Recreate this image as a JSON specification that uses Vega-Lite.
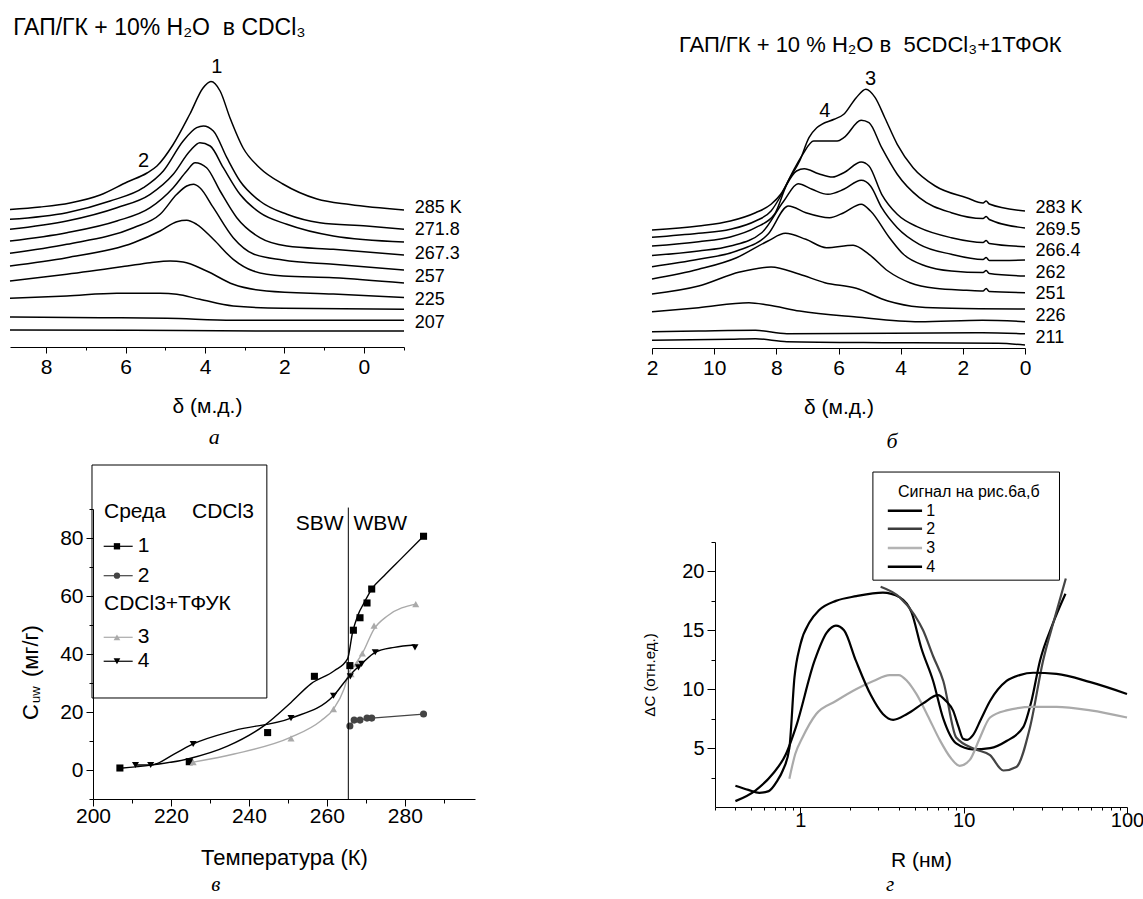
{
"$schema": "https://vega.github.io/schema/vega-lite/v6.json",
"background": "white",
"padding": {"left": 7, "top": 17, "right": 0, "bottom": 0},
"config": {
  "font": "Liberation Sans",
  "view": {"stroke": null},
  "axis": {"domainColor": "black", "tickColor": "black", "labelColor": "black", "titleColor": "black", "labelFont": "Liberation Sans", "titleFont": "Liberation Sans", "titleFontWeight": "normal", "grid": false, "labelFlush": false, "labelOverlap": false, "domainWidth": 1, "tickWidth": 1},
  "text": {"font": "Liberation Sans", "color": "black"}
},
"datasets": {
"a": [
{"c":1,"x":8.91,"y":13.75},{"c":1,"x":8.15,"y":14.0},{"c":1,"x":7.40,"y":14.4},{"c":1,"x":6.64,"y":15.2},{"c":1,"x":5.96,"y":16.5},{"c":1,"x":5.46,"y":17.4},{"c":1,"x":5.21,"y":18.1},{"c":1,"x":4.81,"y":20.2},{"c":1,"x":4.38,"y":23.3},{"c":1,"x":4.05,"y":25.9},{"c":1,"x":3.85,"y":26.55},{"c":1,"x":3.62,"y":25.6},{"c":1,"x":3.37,"y":22.9},{"c":1,"x":3.04,"y":19.9},{"c":1,"x":2.62,"y":17.9},{"c":1,"x":2.04,"y":16.3},{"c":1,"x":1.18,"y":14.8},{"c":1,"x":0.35,"y":14.25},{"c":1,"x":-1.01,"y":13.7},
{"c":2,"x":8.91,"y":12.77},{"c":2,"x":7.48,"y":13.43},{"c":2,"x":6.39,"y":14.6},{"c":2,"x":5.55,"y":15.93},{"c":2,"x":5.05,"y":17.6},{"c":2,"x":4.55,"y":20.6},{"c":2,"x":4.21,"y":21.93},{"c":2,"x":4.04,"y":22.1},{"c":2,"x":3.79,"y":21.6},{"c":2,"x":3.45,"y":18.93},{"c":2,"x":3.12,"y":16.6},{"c":2,"x":2.62,"y":14.6},{"c":2,"x":1.94,"y":13.27},{"c":2,"x":1.11,"y":12.43},{"c":2,"x":-0.07,"y":12.1},{"c":2,"x":-1.01,"y":11.77},
{"c":3,"x":8.91,"y":11.77},{"c":3,"x":7.48,"y":12.6},{"c":3,"x":6.22,"y":13.93},{"c":3,"x":5.38,"y":15.27},{"c":3,"x":4.80,"y":17.27},{"c":3,"x":4.38,"y":19.6},{"c":3,"x":4.13,"y":20.43},{"c":3,"x":3.87,"y":20.1},{"c":3,"x":3.54,"y":17.93},{"c":3,"x":3.12,"y":15.27},{"c":3,"x":2.62,"y":13.43},{"c":3,"x":1.94,"y":12.27},{"c":3,"x":0.77,"y":11.1},{"c":3,"x":-1.01,"y":10.5},
{"c":4,"x":8.91,"y":10.6},{"c":4,"x":7.48,"y":11.43},{"c":4,"x":6.22,"y":12.6},{"c":4,"x":5.38,"y":13.93},{"c":4,"x":4.80,"y":15.93},{"c":4,"x":4.46,"y":17.6},{"c":4,"x":4.25,"y":18.43},{"c":4,"x":3.96,"y":17.93},{"c":4,"x":3.62,"y":15.6},{"c":4,"x":3.20,"y":12.93},{"c":4,"x":2.62,"y":10.93},{"c":4,"x":1.94,"y":10.1},{"c":4,"x":0.77,"y":9.77},{"c":4,"x":-1.01,"y":9.2},
{"c":5,"x":8.91,"y":9.37},{"c":5,"x":7.48,"y":10.27},{"c":5,"x":5.80,"y":11.93},{"c":5,"x":5.13,"y":13.27},{"c":5,"x":4.71,"y":15.27},{"c":5,"x":4.46,"y":16.1},{"c":5,"x":4.29,"y":16.27},{"c":5,"x":4.13,"y":15.93},{"c":5,"x":3.79,"y":13.93},{"c":5,"x":3.29,"y":10.93},{"c":5,"x":2.78,"y":9.3},{"c":5,"x":2.04,"y":8.7},{"c":5,"x":0.77,"y":8.27},{"c":5,"x":-1.01,"y":7.7},
{"c":6,"x":8.91,"y":8.1},{"c":6,"x":7.48,"y":8.93},{"c":6,"x":5.80,"y":10.43},{"c":6,"x":5.13,"y":11.6},{"c":6,"x":4.71,"y":12.53},{"c":6,"x":4.46,"y":12.67},{"c":6,"x":4.21,"y":12.27},{"c":6,"x":3.79,"y":10.77},{"c":6,"x":3.29,"y":8.77},{"c":6,"x":2.78,"y":7.6},{"c":6,"x":2.03,"y":7.1},{"c":6,"x":0.77,"y":6.93},{"c":6,"x":-1.01,"y":6.4},
{"c":7,"x":8.91,"y":6.6},{"c":7,"x":7.48,"y":7.27},{"c":7,"x":5.96,"y":8.1},{"c":7,"x":5.38,"y":8.43},{"c":7,"x":4.88,"y":8.6},{"c":7,"x":4.55,"y":8.5},{"c":7,"x":3.96,"y":7.6},{"c":7,"x":3.29,"y":6.27},{"c":7,"x":2.45,"y":5.6},{"c":7,"x":0.77,"y":5.3},{"c":7,"x":-1.01,"y":4.95},
{"c":8,"x":8.91,"y":4.87},{"c":8,"x":7.48,"y":5.1},{"c":8,"x":6.22,"y":5.37},{"c":8,"x":5.13,"y":5.37},{"c":8,"x":4.71,"y":5.27},{"c":8,"x":4.13,"y":4.77},{"c":8,"x":3.29,"y":4.1},{"c":8,"x":2.03,"y":3.87},{"c":8,"x":-1.01,"y":3.77},
{"c":9,"x":8.91,"y":3.0},{"c":9,"x":6.64,"y":2.93},{"c":9,"x":4.96,"y":2.87},{"c":9,"x":3.29,"y":2.67},{"c":9,"x":-1.01,"y":2.67},
{"c":10,"x":8.91,"y":1.7},{"c":10,"x":5.80,"y":1.67},{"c":10,"x":2.45,"y":1.6},{"c":10,"x":-1.01,"y":1.6}
],
"alab": [
{"t":"285 K","x":-1.28,"y":13.93},{"t":"271.8","x":-1.28,"y":11.67},{"t":"267.3","x":-1.28,"y":9.33},{"t":"257","x":-1.28,"y":7.03},{"t":"225","x":-1.28,"y":4.7},{"t":"207","x":-1.28,"y":2.43}
],
"apk": [{"t":"1","x":3.70,"y":28.0},{"t":"2","x":5.55,"y":18.6}],
"b": [
{"c":1,"x":12,"y":11.7},{"c":1,"x":10.5,"y":12.1},{"c":1,"x":9.48,"y":12.6},{"c":1,"x":8.67,"y":13.43},{"c":1,"x":8.17,"y":14.27},{"c":1,"x":7.86,"y":15.27},{"c":1,"x":7.56,"y":16.93},{"c":1,"x":7.25,"y":18.6},{"c":1,"x":6.95,"y":20.93},{"c":1,"x":6.70,"y":21.93},{"c":1,"x":6.54,"y":22.27},{"c":1,"x":6.14,"y":22.77},{"c":1,"x":5.83,"y":23.27},{"c":1,"x":5.43,"y":24.93},{"c":1,"x":5.12,"y":25.77},{"c":1,"x":4.82,"y":24.93},{"c":1,"x":4.51,"y":22.93},{"c":1,"x":4.11,"y":20.27},{"c":1,"x":3.60,"y":17.93},{"c":1,"x":2.89,"y":16.1},{"c":1,"x":1.88,"y":14.93},{"c":1,"x":1.35,"y":14.4},{"c":1,"x":1.25,"y":14.6},{"c":1,"x":1.15,"y":14.3},{"c":1,"x":0,"y":13.6},
{"c":2,"x":12,"y":10.97},{"c":2,"x":10.5,"y":11.37},{"c":2,"x":9.48,"y":11.77},{"c":2,"x":8.67,"y":12.6},{"c":2,"x":8.17,"y":13.6},{"c":2,"x":7.86,"y":15.1},{"c":2,"x":7.46,"y":17.6},{"c":2,"x":7.15,"y":19.27},{"c":2,"x":6.80,"y":20.6},{"c":2,"x":6.44,"y":20.6},{"c":2,"x":6.04,"y":20.6},{"c":2,"x":5.83,"y":20.93},{"c":2,"x":5.27,"y":22.67},{"c":2,"x":5.02,"y":22.43},{"c":2,"x":4.61,"y":19.93},{"c":2,"x":4.11,"y":17.27},{"c":2,"x":3.40,"y":14.93},{"c":2,"x":2.37,"y":13.43},{"c":2,"x":1.35,"y":12.85},{"c":2,"x":1.25,"y":13.05},{"c":2,"x":1.15,"y":12.75},{"c":2,"x":0,"y":11.9},
{"c":3,"x":12,"y":10.1},{"c":3,"x":10.5,"y":10.53},{"c":3,"x":9.48,"y":11.0},{"c":3,"x":8.67,"y":11.93},{"c":3,"x":8.06,"y":13.27},{"c":3,"x":7.66,"y":16.27},{"c":3,"x":7.35,"y":17.6},{"c":3,"x":7.10,"y":17.83},{"c":3,"x":6.64,"y":17.33},{"c":3,"x":6.19,"y":17.0},{"c":3,"x":5.83,"y":17.43},{"c":3,"x":5.27,"y":18.5},{"c":3,"x":5.02,"y":18.1},{"c":3,"x":4.61,"y":15.27},{"c":3,"x":4.11,"y":13.27},{"c":3,"x":3.40,"y":11.93},{"c":3,"x":2.37,"y":10.93},{"c":3,"x":1.35,"y":10.45},{"c":3,"x":1.25,"y":10.65},{"c":3,"x":1.15,"y":10.35},{"c":3,"x":0,"y":10.03},
{"c":4,"x":12,"y":9.15},{"c":4,"x":10.5,"y":9.6},{"c":4,"x":9.48,"y":10.1},{"c":4,"x":8.47,"y":11.43},{"c":4,"x":7.76,"y":14.6},{"c":4,"x":7.30,"y":16.33},{"c":4,"x":6.85,"y":15.77},{"c":4,"x":6.34,"y":15.27},{"c":4,"x":5.83,"y":15.77},{"c":4,"x":5.27,"y":16.67},{"c":4,"x":4.97,"y":16.1},{"c":4,"x":4.61,"y":13.93},{"c":4,"x":4.11,"y":11.93},{"c":4,"x":3.40,"y":10.27},{"c":4,"x":2.37,"y":9.27},{"c":4,"x":1.35,"y":8.75},{"c":4,"x":1.25,"y":8.95},{"c":4,"x":1.15,"y":8.65},{"c":4,"x":0,"y":8.7},
{"c":5,"x":12,"y":8.03},{"c":5,"x":10.5,"y":8.77},{"c":5,"x":9.28,"y":9.6},{"c":5,"x":8.27,"y":11.27},{"c":5,"x":7.61,"y":14.1},{"c":5,"x":7.05,"y":13.43},{"c":5,"x":6.29,"y":12.93},{"c":5,"x":5.83,"y":13.43},{"c":5,"x":5.27,"y":14.27},{"c":5,"x":4.97,"y":13.6},{"c":5,"x":4.36,"y":10.93},{"c":5,"x":3.91,"y":9.27},{"c":5,"x":3.20,"y":8.1},{"c":5,"x":2.37,"y":7.6},{"c":5,"x":1.35,"y":7.45},{"c":5,"x":1.25,"y":7.65},{"c":5,"x":1.15,"y":7.35},{"c":5,"x":0,"y":7.1},
{"c":6,"x":12,"y":6.8},{"c":6,"x":10.5,"y":7.77},{"c":6,"x":9.28,"y":8.93},{"c":6,"x":8.27,"y":10.6},{"c":6,"x":7.71,"y":11.37},{"c":6,"x":7.05,"y":10.77},{"c":6,"x":6.39,"y":9.93},{"c":6,"x":5.53,"y":10.17},{"c":6,"x":5.02,"y":9.27},{"c":6,"x":4.41,"y":7.6},{"c":6,"x":3.70,"y":6.43},{"c":6,"x":2.89,"y":5.87},{"c":6,"x":1.88,"y":5.67},{"c":6,"x":1.35,"y":5.6},{"c":6,"x":1.25,"y":5.85},{"c":6,"x":1.15,"y":5.55},{"c":6,"x":0,"y":5.43},
{"c":7,"x":12,"y":5.3},{"c":7,"x":10.5,"y":6.1},{"c":7,"x":9.18,"y":7.5},{"c":7,"x":8.17,"y":8.0},{"c":7,"x":7.25,"y":7.27},{"c":7,"x":6.44,"y":6.43},{"c":7,"x":5.43,"y":5.87},{"c":7,"x":4.41,"y":4.6},{"c":7,"x":3.40,"y":4.0},{"c":7,"x":2.37,"y":3.87},{"c":7,"x":0,"y":3.8},
{"c":8,"x":12,"y":3.53},{"c":8,"x":10.5,"y":3.93},{"c":8,"x":8.88,"y":4.43},{"c":8,"x":8.27,"y":4.2},{"c":8,"x":7.25,"y":3.6},{"c":8,"x":5.43,"y":3.0},{"c":8,"x":3.40,"y":2.53},{"c":8,"x":1.37,"y":2.67},{"c":8,"x":0,"y":2.53},
{"c":9,"x":12,"y":1.53},{"c":9,"x":10.5,"y":1.6},{"c":9,"x":8.67,"y":1.67},{"c":9,"x":7.66,"y":1.33},{"c":9,"x":1.37,"y":1.43},{"c":9,"x":0,"y":1.33},
{"c":10,"x":12,"y":0.67},{"c":10,"x":9.48,"y":0.77},{"c":10,"x":8.67,"y":0.83},{"c":10,"x":7.66,"y":0.53},{"c":10,"x":4.41,"y":0.43},{"c":10,"x":0.86,"y":0.37},{"c":10,"x":0,"y":0.2}
],
"blab": [
{"t":"283 K","x":-0.34,"y":13.93},{"t":"269.5","x":-0.34,"y":11.7},{"t":"266.4","x":-0.34,"y":9.6},{"t":"262","x":-0.34,"y":7.37},{"t":"251","x":-0.34,"y":5.27},{"t":"226","x":-0.34,"y":3.1},{"t":"211","x":-0.34,"y":0.87}
],
"bpk": [{"t":"3","x":4.97,"y":26.8},{"t":"4","x":6.44,"y":23.6}],
"vp": [
{"s":"1","T":206.9,"C":0.69},{"s":"1","T":224.7,"C":2.86},{"s":"1","T":244.8,"C":12.9},{"s":"1","T":256.8,"C":32.3},{"s":"1","T":265.9,"C":36.0},{"s":"1","T":266.8,"C":48.2},{"s":"1","T":268.5,"C":52.5},{"s":"1","T":270.3,"C":57.6},{"s":"1","T":271.5,"C":62.4},{"s":"1","T":284.8,"C":80.6},
{"s":"2","T":265.9,"C":15.2},{"s":"2","T":267.0,"C":17.2},{"s":"2","T":268.5,"C":17.2},{"s":"2","T":270.3,"C":17.9},{"s":"2","T":271.5,"C":17.9},{"s":"2","T":284.8,"C":19.3},
{"s":"3","T":225.7,"C":2.66},{"s":"3","T":250.8,"C":10.9},{"s":"3","T":261.7,"C":21.0},{"s":"3","T":266.2,"C":33.0},{"s":"3","T":267.8,"C":36.5},{"s":"3","T":269.1,"C":40.2},{"s":"3","T":272.1,"C":49.8},{"s":"3","T":282.8,"C":57.2},
{"s":"4","T":210.9,"C":1.72},{"s":"4","T":214.8,"C":1.72},{"s":"4","T":225.7,"C":8.97},{"s":"4","T":250.8,"C":17.9},{"s":"4","T":261.7,"C":25.6},{"s":"4","T":266.0,"C":32.3},{"s":"4","T":268.1,"C":35.4},{"s":"4","T":268.9,"C":36.6},{"s":"4","T":272.4,"C":40.6},{"s":"4","T":282.6,"C":42.3}
],
"vf": [
{"s":"1","T":206.9,"C":0.6},{"s":"1","T":214.9,"C":1.7},{"s":"1","T":224.3,"C":3.8},{"s":"1","T":234.5,"C":8.2},{"s":"1","T":243.9,"C":15.3},{"s":"1","T":250.8,"C":23.3},{"s":"1","T":255.9,"C":29.7},{"s":"1","T":261.9,"C":34.2},{"s":"1","T":265.3,"C":38.3},{"s":"1","T":266.6,"C":47.5},{"s":"1","T":267.9,"C":53.2},{"s":"1","T":269.6,"C":57.8},{"s":"1","T":271.5,"C":62.4},{"s":"1","T":274.7,"C":67.0},{"s":"1","T":279.0,"C":72.8},{"s":"1","T":284.8,"C":80.6},
{"s":"3","T":225.7,"C":2.7},{"s":"3","T":236.2,"C":5.5},{"s":"3","T":250.8,"C":11.3},{"s":"3","T":258.5,"C":17.0},{"s":"3","T":261.7,"C":21.0},{"s":"3","T":264.4,"C":27.9},{"s":"3","T":265.7,"C":33.7},{"s":"3","T":267.0,"C":36.0},{"s":"3","T":269.1,"C":40.2},{"s":"3","T":272.1,"C":48.6},{"s":"3","T":275.6,"C":53.2},{"s":"3","T":282.8,"C":57.2},
{"s":"4","T":210.8,"C":1.7},{"s":"4","T":214.8,"C":1.7},{"s":"4","T":220.8,"C":5.5},{"s":"4","T":225.7,"C":9.0},{"s":"4","T":236.2,"C":13.6},{"s":"4","T":250.8,"C":17.9},{"s":"4","T":261.7,"C":25.6},{"s":"4","T":265.5,"C":32.0},{"s":"4","T":267.0,"C":34.2},{"s":"4","T":268.9,"C":36.6},{"s":"4","T":272.4,"C":40.6},{"s":"4","T":277.3,"C":42.3},{"s":"4","T":282.6,"C":43.1}
],
"g": [
{"s":"1","R":0.40,"C":1.8},{"s":"1","R":0.48,"C":1.45},{"s":"1","R":0.56,"C":1.2},{"s":"1","R":0.64,"C":1.35},{"s":"1","R":0.72,"C":2.2},{"s":"1","R":0.78,"C":3.1},{"s":"1","R":0.856,"C":5.0},{"s":"1","R":0.92,"C":11.0},{"s":"1","R":1.0,"C":13.8},{"s":"1","R":1.14,"C":15.7},{"s":"1","R":1.3,"C":16.7},{"s":"1","R":1.65,"C":17.5},{"s":"1","R":2.2,"C":17.9},{"s":"1","R":3.2,"C":18.2},{"s":"1","R":4.06,"C":17.8},{"s":"1","R":4.8,"C":16.5},{"s":"1","R":5.5,"C":13.5},{"s":"1","R":6.5,"C":10.7},{"s":"1","R":7.5,"C":7.5},{"s":"1","R":9.0,"C":5.4},{"s":"1","R":11.4,"C":4.9},{"s":"1","R":14.5,"C":5.0},{"s":"1","R":18.3,"C":5.6},{"s":"1","R":23.2,"C":6.8},{"s":"1","R":26.0,"C":9.0},{"s":"1","R":29.3,"C":12.4},{"s":"1","R":35.0,"C":15.5},{"s":"1","R":42.0,"C":18.1},
{"s":"2","R":3.1,"C":18.7},{"s":"2","R":4.06,"C":17.8},{"s":"2","R":5.0,"C":16.3},{"s":"2","R":5.64,"C":15.0},{"s":"2","R":6.5,"C":12.8},{"s":"2","R":7.5,"C":10.7},{"s":"2","R":9.0,"C":5.9},{"s":"2","R":11.8,"C":4.9},{"s":"2","R":14.5,"C":4.4},{"s":"2","R":17.5,"C":3.1},{"s":"2","R":21.0,"C":3.4},{"s":"2","R":25.5,"C":6.8},{"s":"2","R":30.6,"C":12.4},{"s":"2","R":36.0,"C":16.0},{"s":"2","R":42.2,"C":19.4},
{"s":"3","R":0.856,"C":2.4},{"s":"3","R":0.93,"C":4.5},{"s":"3","R":1.03,"C":5.9},{"s":"3","R":1.25,"C":7.9},{"s":"3","R":1.65,"C":9.0},{"s":"3","R":2.19,"C":10.0},{"s":"3","R":2.8,"C":10.7},{"s":"3","R":3.52,"C":11.2},{"s":"3","R":4.0,"C":11.2},{"s":"3","R":4.5,"C":10.7},{"s":"3","R":5.13,"C":9.6},{"s":"3","R":6.0,"C":7.8},{"s":"3","R":7.13,"C":5.7},{"s":"3","R":8.3,"C":4.2},{"s":"3","R":9.44,"C":3.5},{"s":"3","R":10.9,"C":4.0},{"s":"3","R":12.5,"C":5.8},{"s":"3","R":14.5,"C":7.6},{"s":"3","R":18.3,"C":8.2},{"s":"3","R":26.7,"C":8.5},{"s":"3","R":37.0,"C":8.5},{"s":"3","R":59.7,"C":8.2},{"s":"3","R":100,"C":7.6},
{"s":"4","R":0.40,"C":0.5},{"s":"4","R":0.53,"C":1.4},{"s":"4","R":0.676,"C":2.8},{"s":"4","R":0.816,"C":4.5},{"s":"4","R":0.94,"C":6.8},{"s":"4","R":1.22,"C":12.4},{"s":"4","R":1.45,"C":14.8},{"s":"4","R":1.65,"C":15.4},{"s":"4","R":1.85,"C":15.0},{"s":"4","R":2.19,"C":12.4},{"s":"4","R":2.7,"C":9.5},{"s":"4","R":3.2,"C":7.9},{"s":"4","R":3.7,"C":7.4},{"s":"4","R":4.5,"C":7.9},{"s":"4","R":5.64,"C":8.8},{"s":"4","R":6.96,"C":9.5},{"s":"4","R":7.8,"C":9.0},{"s":"4","R":8.6,"C":8.2},{"s":"4","R":9.3,"C":6.8},{"s":"4","R":9.9,"C":5.8},{"s":"4","R":10.5,"C":5.7},{"s":"4","R":11.4,"C":6.1},{"s":"4","R":12.8,"C":7.5},{"s":"4","R":14.5,"C":9.0},{"s":"4","R":18.3,"C":10.7},{"s":"4","R":22.0,"C":11.2},{"s":"4","R":26.7,"C":11.4},{"s":"4","R":37.0,"C":11.3},{"s":"4","R":59.7,"C":10.6},{"s":"4","R":100,"C":9.6}
]
},
"spacing": 160,
"hconcat": [
{
 "spacing": 16,
 "vconcat": [
  {
   "width": 394, "height": 286,
   "layer": [
     {"data": {"name": "a"}, "mark": {"type": "line", "interpolate": "monotone", "color": "black", "strokeWidth": 1.5},
      "encoding": {
        "x": {"field": "x", "type": "quantitative", "scale": {"domain": [8.91, -1.01], "nice": false, "zero": false},
          "axis": {"values": [-1,0,1,2,3,4,5,6,7,8], "labelExpr": "datum.value % 2 === 0 ? datum.label : ''", "tickSize": {"condition": {"test": "datum.value % 2 === 0", "value": 6}, "value": 3}, "labelFontSize": 21, "labelPadding": 3, "title": "δ (м.д.)", "titleFontSize": 21, "titlePadding": 18}},
        "y": {"field": "y", "type": "quantitative", "scale": {"domain": [0, 28.6], "nice": false, "zero": false}, "axis": null},
        "detail": {"field": "c", "type": "nominal"}}},
     {"data": {"name": "alab"}, "mark": {"type": "text", "align": "left", "baseline": "middle", "fontSize": 18},
      "encoding": {"x": {"field": "x", "type": "quantitative"}, "y": {"field": "y", "type": "quantitative", "axis": null}, "text": {"field": "t"}}},
     {"data": {"name": "apk"}, "mark": {"type": "text", "align": "center", "baseline": "middle", "fontSize": 20},
      "encoding": {"x": {"field": "x", "type": "quantitative"}, "y": {"field": "y", "type": "quantitative", "axis": null}, "text": {"field": "t"}}},
     {"data": {"values": [{}]}, "mark": {"type": "text", "align": "left", "baseline": "alphabetic", "fontSize": 23},
      "encoding": {"x": {"datum": 8.83}, "y": {"datum": 31.2, "axis": null}, "text": {"value": "ГАП/ГК + 10% H₂O\u00a0 в CDCl₃"}}},
     {"data": {"values": [{}]}, "mark": {"type": "text", "font": "Liberation Serif", "fontStyle": "italic", "fontSize": 22, "baseline": "middle"},
      "encoding": {"x": {"datum": 3.77}, "y": {"datum": -9.0, "axis": null}, "text": {"value": "а"}}}
   ]
  },
  {
   "spacing": 0,
   "hconcat": [
    {"width": 10, "height": 1, "data": {"values": []}, "mark": "point"},
    {
     "width": 382, "height": 290,
     "resolve": {"axis": {"x": "independent", "y": "independent"}},
     "layer": [
       {"data": {"name": "vf"}, "mark": {"type": "line", "interpolate": "monotone", "strokeWidth": 1.4},
        "encoding": {
          "x": {"field": "T", "type": "quantitative", "scale": {"domain": [200, 298], "nice": false, "zero": false},
            "axis": {"values": [200,210,220,230,240,250,260,270,280,290], "labelExpr": "datum.value % 20 == 0 ? datum.label : ''", "tickSize": {"condition": {"test": "datum.value % 20 == 0", "value": 7}, "value": 4}, "labelFontSize": 21, "labelPadding": -1, "title": "Температура (К)", "titleFontSize": 22, "titlePadding": 21}},
          "y": {"field": "C", "type": "quantitative", "scale": {"domain": [-10, 90], "nice": false, "zero": false},
            "axis": {"values": [-10,0,10,20,30,40,50,60,70,80,90], "labelExpr": "datum.value % 20 == 0 ? datum.label : ''", "tickSize": {"condition": {"test": "datum.value % 20 == 0", "value": 7}, "value": 4}, "labelFontSize": 21, "labelPadding": 3, "title": null}},
          "color": {"field": "s", "type": "nominal", "scale": {"domain": ["1","2","3","4"], "range": ["#000000","#444444","#aaaaaa","#000000"]}, "legend": null}}},
       {"data": {"name": "vp"}, "transform": [{"filter": "datum.s == '2'"}], "mark": {"type": "line", "color": "#444444", "strokeWidth": 1.3},
        "encoding": {"x": {"field": "T", "type": "quantitative", "axis": null}, "y": {"field": "C", "type": "quantitative", "axis": null}}},
       {"data": {"name": "vp"}, "mark": {"type": "point", "filled": true, "size": 50, "opacity": 1},
        "encoding": {"x": {"field": "T", "type": "quantitative", "axis": null}, "y": {"field": "C", "type": "quantitative", "axis": null},
          "shape": {"field": "s", "type": "nominal", "scale": {"domain": ["1","2","3","4"], "range": ["square","circle","triangle-up","triangle-down"]}, "legend": null},
          "color": {"field": "s", "type": "nominal", "legend": null}}},
       {"data": {"values": [{}]}, "mark": {"type": "rule", "color": "black", "strokeWidth": 1},
        "encoding": {"x": {"datum": 265.5, "axis": null}, "y": {"datum": -10, "axis": null}, "y2": {"datum": 90.5}}},
       {"data": {"values": [{}]}, "mark": {"type": "text", "align": "right", "baseline": "middle", "fontSize": 21},
        "encoding": {"x": {"datum": 264.3, "axis": null}, "y": {"datum": 84.8, "axis": null}, "text": {"value": "SBW"}}},
       {"data": {"values": [{}]}, "mark": {"type": "text", "align": "left", "baseline": "middle", "fontSize": 21},
        "encoding": {"x": {"datum": 266.8, "axis": null}, "y": {"datum": 84.8, "axis": null}, "text": {"value": "WBW"}}},
       {"data": {"values": [{}]}, "mark": {"type": "rect", "filled": false, "color": "black", "strokeWidth": 1},
        "encoding": {"x": {"datum": 199.74, "axis": null}, "x2": {"datum": 244.6}, "y": {"datum": 105.17, "axis": null}, "y2": {"datum": 24.83}}},
       {"data": {"values": [{}]}, "mark": {"type": "text", "align": "left", "baseline": "middle", "fontSize": 21},
        "encoding": {"x": {"datum": 202.82, "axis": null}, "y": {"datum": 88.86, "axis": null}, "text": {"value": "Среда"}}},
       {"data": {"values": [{}]}, "mark": {"type": "text", "align": "left", "baseline": "middle", "fontSize": 21},
        "encoding": {"x": {"datum": 225.4, "axis": null}, "y": {"datum": 88.86, "axis": null}, "text": {"value": "CDCl3"}}},
       {"data": {"values": [{}]}, "mark": {"type": "text", "align": "left", "baseline": "middle", "fontSize": 21},
        "encoding": {"x": {"datum": 202.82, "axis": null}, "y": {"datum": 57.24, "axis": null}, "text": {"value": "CDCl3+ТФУК"}}},
       {"data": {"values": [{}]}, "mark": {"type": "rule", "color": "#000000", "strokeWidth": 1.2},
        "encoding": {"x": {"datum": 202.74, "axis": null}, "x2": {"datum": 210.18}, "y": {"datum": 77.14, "axis": null}}},
       {"data": {"values": [{}]}, "mark": {"type": "rule", "color": "#444444", "strokeWidth": 1.2},
        "encoding": {"x": {"datum": 202.74, "axis": null}, "x2": {"datum": 210.18}, "y": {"datum": 67.0, "axis": null}}},
       {"data": {"values": [{}]}, "mark": {"type": "rule", "color": "#aaaaaa", "strokeWidth": 1.2},
        "encoding": {"x": {"datum": 202.74, "axis": null}, "x2": {"datum": 210.18}, "y": {"datum": 45.76, "axis": null}}},
       {"data": {"values": [{}]}, "mark": {"type": "rule", "color": "#000000", "strokeWidth": 1.2},
        "encoding": {"x": {"datum": 202.74, "axis": null}, "x2": {"datum": 210.18}, "y": {"datum": 37.5, "axis": null}}},
       {"data": {"values": [{}]}, "mark": {"type": "point", "filled": true, "shape": "square", "size": 40, "color": "#000000", "opacity": 1},
        "encoding": {"x": {"datum": 206.15, "axis": null}, "y": {"datum": 77.14, "axis": null}}},
       {"data": {"values": [{}]}, "mark": {"type": "point", "filled": true, "shape": "circle", "size": 40, "color": "#444444", "opacity": 1},
        "encoding": {"x": {"datum": 206.15, "axis": null}, "y": {"datum": 67.0, "axis": null}}},
       {"data": {"values": [{}]}, "mark": {"type": "point", "filled": true, "shape": "triangle-up", "size": 45, "color": "#aaaaaa", "opacity": 1},
        "encoding": {"x": {"datum": 206.15, "axis": null}, "y": {"datum": 45.76, "axis": null}}},
       {"data": {"values": [{}]}, "mark": {"type": "point", "filled": true, "shape": "triangle-down", "size": 45, "color": "#000000", "opacity": 1},
        "encoding": {"x": {"datum": 206.15, "axis": null}, "y": {"datum": 37.5, "axis": null}}},
       {"data": {"values": [{}]}, "mark": {"type": "text", "align": "left", "baseline": "middle", "fontSize": 21},
        "encoding": {"x": {"datum": 211.46, "axis": null}, "y": {"datum": 77.14, "axis": null}, "text": {"value": "1"}}},
       {"data": {"values": [{}]}, "mark": {"type": "text", "align": "left", "baseline": "middle", "fontSize": 21},
        "encoding": {"x": {"datum": 211.46, "axis": null}, "y": {"datum": 67.0, "axis": null}, "text": {"value": "2"}}},
       {"data": {"values": [{}]}, "mark": {"type": "text", "align": "left", "baseline": "middle", "fontSize": 21},
        "encoding": {"x": {"datum": 211.46, "axis": null}, "y": {"datum": 45.76, "axis": null}, "text": {"value": "3"}}},
       {"data": {"values": [{}]}, "mark": {"type": "text", "align": "left", "baseline": "middle", "fontSize": 21},
        "encoding": {"x": {"datum": 211.46, "axis": null}, "y": {"datum": 37.5, "axis": null}, "text": {"value": "4"}}},
       {"data": {"values": [{}]}, "mark": {"type": "text", "angle": 270, "align": "center", "baseline": "alphabetic", "fontSize": 22},
        "encoding": {"x": {"datum": 185.9, "axis": null}, "y": {"datum": 20.0, "axis": null}, "text": {"value": "C"}}},
       {"data": {"values": [{}]}, "mark": {"type": "text", "angle": 270, "align": "center", "baseline": "alphabetic", "fontSize": 13},
        "encoding": {"x": {"datum": 186.4, "axis": null}, "y": {"datum": 26.0, "axis": null}, "text": {"value": "uw"}}},
       {"data": {"values": [{}]}, "mark": {"type": "text", "angle": 270, "align": "center", "baseline": "alphabetic", "fontSize": 22},
        "encoding": {"x": {"datum": 185.9, "axis": null}, "y": {"datum": 41.0, "axis": null}, "text": {"value": "(мг/г)"}}},
       {"data": {"values": [{}]}, "mark": {"type": "text", "font": "Liberation Serif", "fontStyle": "italic", "fontSize": 21, "baseline": "middle"},
        "encoding": {"x": {"datum": 231.5, "axis": null}, "y": {"datum": -39.6, "axis": null}, "text": {"value": "в"}}}
     ]
    }
   ]
  }
 ]
},
{
 "spacing": 19,
 "vconcat": [
  {
   "spacing": 0,
   "hconcat": [
    {"width": 11, "height": 1, "data": {"values": []}, "mark": "point"},
    {
     "width": 373, "height": 287,
     "layer": [
       {"data": {"name": "b"}, "mark": {"type": "line", "interpolate": "monotone", "color": "black", "strokeWidth": 1.5},
        "encoding": {
          "x": {"field": "x", "type": "quantitative", "scale": {"domain": [12, 0], "nice": false, "zero": false},
            "axis": {"values": [0,1,2,3,4,5,6,7,8,9,10,11,12], "labelExpr": "datum.value == 12 ? '2' : (datum.value % 2 == 0 ? datum.label : '')", "tickSize": {"condition": {"test": "datum.value % 2 == 0", "value": 6}, "value": 3}, "labelFontSize": 21, "labelPadding": 3, "title": "δ (м.д.)", "titleFontSize": 21, "titlePadding": 18}},
          "y": {"field": "y", "type": "quantitative", "scale": {"domain": [-0.1, 28.6], "nice": false, "zero": false}, "axis": null},
          "detail": {"field": "c", "type": "nominal"}}},
       {"data": {"name": "blab"}, "mark": {"type": "text", "align": "left", "baseline": "middle", "fontSize": 18},
        "encoding": {"x": {"field": "x", "type": "quantitative"}, "y": {"field": "y", "type": "quantitative", "axis": null}, "text": {"field": "t"}}},
       {"data": {"name": "bpk"}, "mark": {"type": "text", "align": "center", "baseline": "middle", "fontSize": 20},
        "encoding": {"x": {"field": "x", "type": "quantitative"}, "y": {"field": "y", "type": "quantitative", "axis": null}, "text": {"field": "t"}}},
       {"data": {"values": [{}]}, "mark": {"type": "text", "align": "left", "baseline": "alphabetic", "fontSize": 22},
        "encoding": {"x": {"datum": 11.13}, "y": {"datum": 29.5, "axis": null}, "text": {"value": "ГАП/ГК + 10 % H₂O в\u00a0 5CDCl₃+1ТФОК"}}},
       {"data": {"values": [{}]}, "mark": {"type": "text", "font": "Liberation Serif", "fontStyle": "italic", "fontSize": 22, "baseline": "middle"},
        "encoding": {"x": {"datum": 4.28}, "y": {"datum": -9.4, "axis": null}, "text": {"value": "б"}}}
     ]
    }
   ]
  },
  {
   "spacing": 0,
   "hconcat": [
    {"width": 7, "height": 1, "data": {"values": []}, "mark": "point"},
    {
     "width": 412, "height": 265,
     "resolve": {"axis": {"x": "independent", "y": "independent"}},
     "layer": [
       {"data": {"name": "g"}, "mark": {"type": "line", "interpolate": "monotone", "strokeWidth": 2.2},
        "encoding": {
          "x": {"field": "R", "type": "quantitative", "scale": {"type": "log", "domain": [0.3, 100], "nice": false},
            "axis": {"values": [0.3,0.4,0.5,0.6,0.7,0.8,0.9,1,2,3,4,5,6,7,8,9,10,20,30,40,50,60,70,80,90,100], "labelExpr": "datum.value == 1 ? '1' : datum.value == 10 ? '10' : datum.value == 100 ? '100' : ''", "tickSize": {"condition": {"test": "datum.value == 1 || datum.value == 10 || datum.value == 100", "value": 6}, "value": 3}, "labelFontSize": 20, "labelPadding": -3, "title": "R (нм)", "titleFontSize": 21, "titlePadding": 19}},
          "y": {"field": "C", "type": "quantitative", "scale": {"domain": [0, 22.5], "nice": false, "zero": false},
            "axis": {"values": [2.5,5,7.5,10,12.5,15,17.5,20,22.5], "labelExpr": "datum.value % 5 == 0 ? datum.label : ''", "tickSize": {"condition": {"test": "datum.value % 5 == 0", "value": 8}, "value": 4}, "labelFontSize": 20, "labelPadding": 3, "title": "ΔC (отн.ед.)", "titleFontSize": 15, "titlePadding": 24}},
          "color": {"field": "s", "type": "nominal", "scale": {"domain": ["1","2","3","4"], "range": ["#000000","#3c3c3c","#b4b4b4","#000000"]}, "legend": null}}},
       {"data": {"values": [{}]}, "mark": {"type": "rect", "filled": false, "color": "black", "strokeWidth": 1},
        "encoding": {"x": {"datum": 2.78, "axis": null}, "x2": {"datum": 38.6}, "y": {"datum": 28.44, "axis": null}, "y2": {"datum": 19.26}}},
       {"data": {"values": [{}]}, "mark": {"type": "text", "align": "left", "baseline": "middle", "fontSize": 16},
        "encoding": {"x": {"datum": 3.955, "axis": null}, "y": {"datum": 26.74, "axis": null}, "text": {"value": "Сигнал на рис.6а,б"}}},
       {"data": {"values": [{}]}, "mark": {"type": "rule", "color": "#000000", "strokeWidth": 2.5},
        "encoding": {"x": {"datum": 3.43, "axis": null}, "x2": {"datum": 5.56}, "y": {"datum": 25.15, "axis": null}}},
       {"data": {"values": [{}]}, "mark": {"type": "rule", "color": "#3c3c3c", "strokeWidth": 2.5},
        "encoding": {"x": {"datum": 3.43, "axis": null}, "x2": {"datum": 5.56}, "y": {"datum": 23.62, "axis": null}}},
       {"data": {"values": [{}]}, "mark": {"type": "rule", "color": "#b4b4b4", "strokeWidth": 2.5},
        "encoding": {"x": {"datum": 3.43, "axis": null}, "x2": {"datum": 5.56}, "y": {"datum": 21.98, "axis": null}}},
       {"data": {"values": [{}]}, "mark": {"type": "rule", "color": "#000000", "strokeWidth": 2.5},
        "encoding": {"x": {"datum": 3.43, "axis": null}, "x2": {"datum": 5.56}, "y": {"datum": 20.39, "axis": null}}},
       {"data": {"values": [{}]}, "mark": {"type": "text", "align": "left", "baseline": "middle", "fontSize": 16},
        "encoding": {"x": {"datum": 5.89, "axis": null}, "y": {"datum": 25.15, "axis": null}, "text": {"value": "1"}}},
       {"data": {"values": [{}]}, "mark": {"type": "text", "align": "left", "baseline": "middle", "fontSize": 16},
        "encoding": {"x": {"datum": 5.89, "axis": null}, "y": {"datum": 23.62, "axis": null}, "text": {"value": "2"}}},
       {"data": {"values": [{}]}, "mark": {"type": "text", "align": "left", "baseline": "middle", "fontSize": 16},
        "encoding": {"x": {"datum": 5.89, "axis": null}, "y": {"datum": 21.98, "axis": null}, "text": {"value": "3"}}},
       {"data": {"values": [{}]}, "mark": {"type": "text", "align": "left", "baseline": "middle", "fontSize": 16},
        "encoding": {"x": {"datum": 5.89, "axis": null}, "y": {"datum": 20.39, "axis": null}, "text": {"value": "4"}}},
       {"data": {"values": [{}]}, "mark": {"type": "text", "font": "Liberation Serif", "fontStyle": "italic", "fontSize": 21, "baseline": "middle"},
        "encoding": {"x": {"datum": 3.54, "axis": null}, "y": {"datum": -6.6, "axis": null}, "text": {"value": "г"}}}
     ]
    }
   ]
  }
 ]
}
]
}
